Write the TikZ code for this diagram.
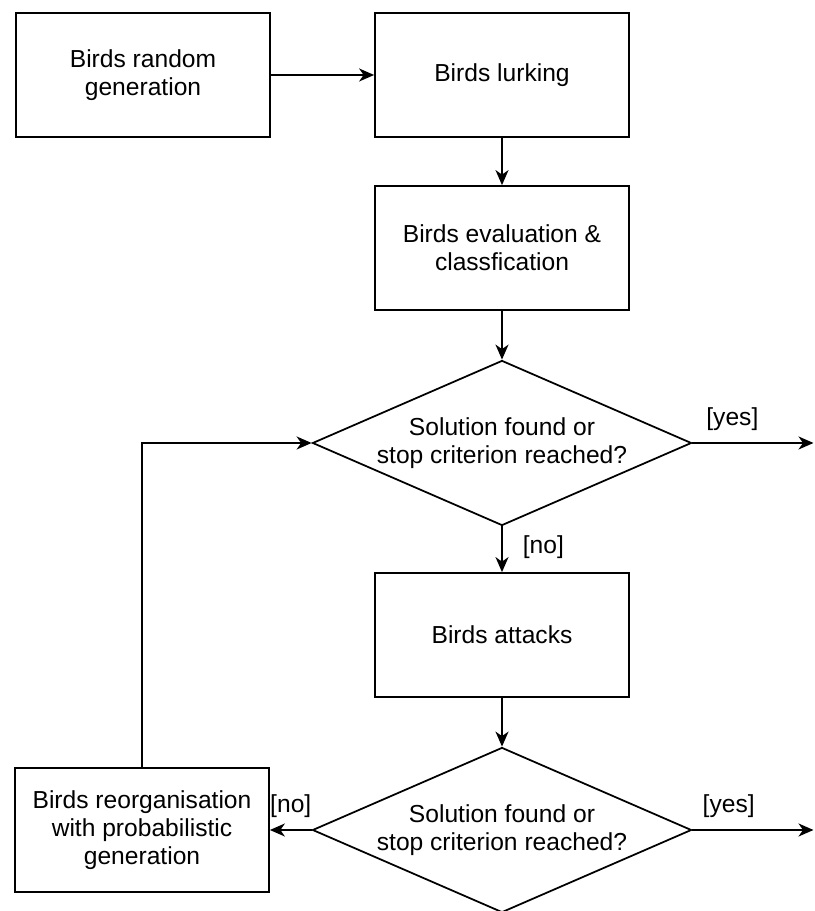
\documentclass[tikz,border=0pt]{standalone}
\usepackage{fontspec}
\setmainfont{Liberation Sans}
\usetikzlibrary{shapes.geometric, arrows.meta}

\begin{document}
\begin{tikzpicture}[
	caixa/.style={draw, line width=1pt, minimum width=5.08cm, minimum height=2.48cm, align=center, font=\fontsize{14}{16}\selectfont},
	decisao/.style={draw, diamond, aspect=2.3, inner sep=0pt, line width=1pt, minimum width=7.58cm, minimum height=3.3cm, align=center, font=\fontsize{14}{16}\selectfont},
	seta/.style={-{Stealth[length=3mm, width=2.6mm, inset=0.9mm]}, line width=1pt},
	rotulo/.style={font=\fontsize{14}{16}\selectfont}
	]
	%% Margens
	\useasboundingbox (0,0) rectangle (16.28,18.22);
	
	%% Caixas
	\node [caixa] (geracao) at (2.86,16.72) {Birds random\\generation};
	\node [caixa] (espreita) at (10.04,16.72) {Birds lurking};
	\node [caixa] (avaliacao) at (10.04,13.26) {Birds evaluation \&\\classfication};
	\node [caixa] (ataque) at (10.04,5.52) {Birds attacks};
	\node [caixa] (reorg) at (2.84,1.62) {Birds reorganisation\\with probabilistic\\generation};
	
	%% Decisões
	\node [decisao] (teste1) at (10.04,9.36) {Solution found or\\stop criterion reached?};
	\node [decisao] (teste2) at (10.04,1.62) {Solution found or\\stop criterion reached?};
	
	%% Saídas
	\coordinate (fim1) at (16.27,9.36);
	\coordinate (fim2) at (16.27,1.62);
	
	%% Setas
	\draw [seta] (geracao) -- (espreita);
	\draw [seta] (espreita) -- (avaliacao);
	\draw [seta] (avaliacao) -- (teste1);
	\draw [seta] (teste1) -- (ataque) node [pos=0.45, right=8pt, rotulo] {[no]};
	\draw [seta] (teste1.east) -- (fim1) node [pos=0.33, above=3pt, rotulo] {[yes]};
	\draw [seta] (ataque) -- (teste2);
	\draw [seta] (teste2.east) -- (fim2) node [pos=0.3, above=3pt, rotulo] {[yes]};
	\draw [seta] (teste2.west) -- (reorg.east) node [midway, above=3pt, rotulo] {[no]};
	
	%% Retorno
	\draw [seta] (reorg.north) |- (teste1.west);
\end{tikzpicture}
\end{document}
